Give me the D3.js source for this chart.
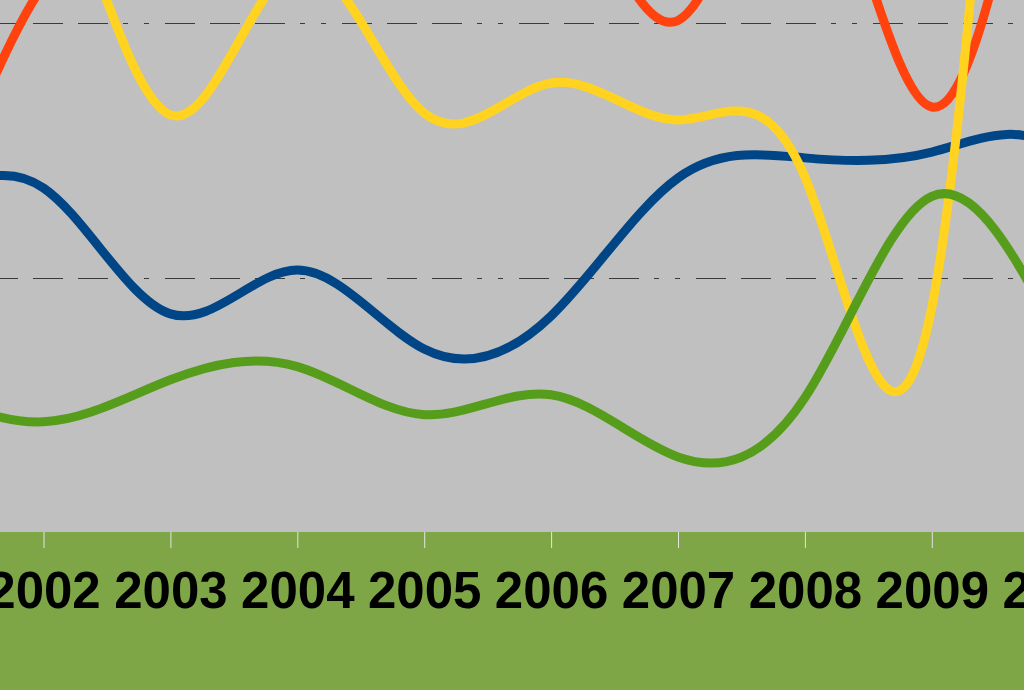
<!DOCTYPE html>
<html><head><meta charset="utf-8">
<script src="https://cdn.jsdelivr.net/npm/d3@7"></script>
<style>html,body{margin:0;padding:0;background:#7EA646;overflow:hidden}</style>
</head><body>
<svg id="c" width="1024" height="690"></svg>
<script>
const years = [2001, 2002, 2003, 2004, 2005, 2006, 2007, 2008, 2009, 2010, 2011];
const blueSeries   = [12.6, 13.52, 8.57, 10.29, 7.19, 8.49, 13.91, 14.7, 14.93, 15.0, 7.15];
const redSeries    = [10.0, 21.5, 24.8, 26.0, 25.6, 27.0, 20.1, 27.5, 16.7, 34.0, null];
const yellowSeries = [26.8, 27.0, 16.39, 22.28, 16.46, 17.64, 16.19, 13.95, 8.84, 69.7, null];
const greenSeries  = [5.8, 4.33, 5.98, 6.5, 4.61, 5.39, 2.95, 5.28, 13.19, 7.6, null];
const gridValues = [10, 20];
const tickYears = [2001, 2002, 2003, 2004, 2005, 2006, 2007, 2008, 2009, 2010];

const seriesList = [
  {values: blueSeries, color: "#004586"},
  {values: redSeries, color: "#FF420E"},
  {values: yellowSeries, color: "#FFD320"},
  {values: greenSeries, color: "#579D1C"}
];

const W = 1024, H = 690, plotBottom = 532;
const svg = d3.select("#c");
const x = d3.scaleLinear().domain([2002, 2009]).range([43.5, 931.8]);
const y = d3.scaleLinear().domain([0, 20]).range([plotBottom, 23]);

svg.append("rect").attr("x", 0).attr("y", 0).attr("width", W).attr("height", plotBottom).attr("fill", "#C0C0C0");
svg.append("rect").attr("x", 0).attr("y", plotBottom).attr("width", W).attr("height", H - plotBottom).attr("fill", "#7EA646");

const grid = svg.append("g").attr("class", "grid");
grid.selectAll("line").data(gridValues).join("line")
  .attr("x1", 0).attr("x2", W)
  .attr("y1", d => Math.round(y(d)) + 0.5).attr("y2", d => Math.round(y(d)) + 0.5)
  .attr("stroke", "#3a3a3a").attr("stroke-width", 1)
  .attr("stroke-dasharray", "30,15,30,15,30,15,5,16,5,16")
  .attr("stroke-dashoffset", 12);

svg.append("clipPath").attr("id", "pc").append("rect")
  .attr("x", 0).attr("y", 0).attr("width", W).attr("height", plotBottom);

const line = d3.line()
  .defined(d => d != null)
  .x((d, i) => x(years[i])).y(d => y(d))
  .curve(d3.curveNatural);
const lines = svg.append("g").attr("clip-path", "url(#pc)");
lines.selectAll("path").data(seriesList).join("path")
  .attr("d", d => line(d.values))
  .attr("fill", "none").attr("stroke", d => d.color)
  .attr("stroke-width", 9).attr("stroke-linejoin", "round").attr("stroke-linecap", "round");

const axis = d3.axisBottom(x).tickValues(tickYears).tickFormat(d3.format("d")).tickSize(16).tickPadding(6);
const ax = svg.append("g").attr("transform", `translate(0,${plotBottom})`).call(axis);
ax.select(".domain").remove();
ax.selectAll(".tick line").attr("stroke", "#E4E4E4").attr("stroke-width", 1);
ax.selectAll(".tick text").attr("fill", "#000").attr("font-family", "'Liberation Sans', Arial, sans-serif")
  .attr("font-weight", "bold").attr("font-size", 51).attr("dy", 0).attr("y", 76);
</script>
</body></html>
